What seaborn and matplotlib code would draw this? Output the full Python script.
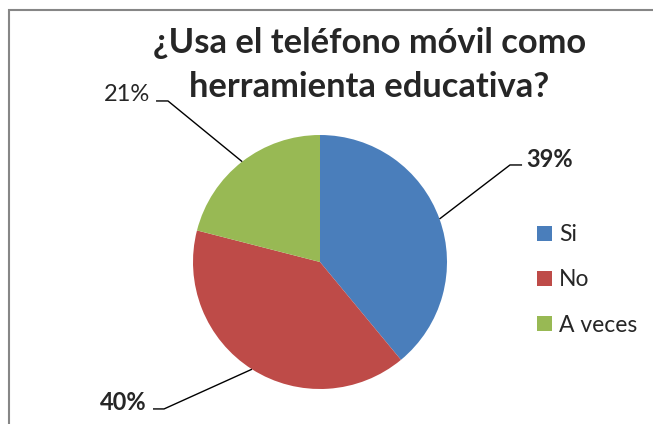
import seaborn as sns
import matplotlib.pyplot as plt
from matplotlib.patches import Rectangle
import numpy as np

sns.set_style("white")
plt.rcParams['font.family'] = ['Lato', 'DejaVu Sans']

# data
categorias = ["Si", "No", "A veces"]
valores = [39, 40, 21]
colores = ["#4A7EBB", "#BE4B48", "#98B954"]
titulo = ["¿Usa el teléfono móvil como", "herramienta educativa?"]

W, H = 653, 424
fig = plt.figure(figsize=(W / 100, H / 100), dpi=100)

# pie axes: center (320, 262) px, radius 127 px
cx, cy, r = 320, 262, 127
ax = fig.add_axes([(cx - r) / W, (H - cy - r) / H, 2 * r / W, 2 * r / H])
wedges, _ = ax.pie(valores, colors=colores, startangle=90, counterclock=False,
                   radius=1, wedgeprops=dict(linewidth=0))
ax.set_xlim(-1, 1)
ax.set_ylim(-1, 1)
ax.set_aspect("equal")
ax.axis("off")

# leader lines and percentage labels
total = sum(valores)
etiquetas = [
    dict(codo=(1.496, 0.764), fin=(1.591, 0.764), texto=(1.622, 0.748), ha="left", bold=True),
    dict(codo=(-1.228, -1.157), fin=(-1.315, -1.157), texto=(-1.362, -1.165), ha="right", bold=True),
    dict(codo=(-1.197, 1.268), fin=(-1.291, 1.268), texto=(-1.339, 1.268), ha="right", bold=False),
]
for w, v, e in zip(wedges, valores, etiquetas):
    ang = np.deg2rad((w.theta1 + w.theta2) / 2)
    p = (np.cos(ang), np.sin(ang))
    ax.plot([p[0], e["codo"][0], e["fin"][0]], [p[1], e["codo"][1], e["fin"][1]],
            color="black", lw=1, clip_on=False, solid_capstyle="butt")
    ax.text(e["texto"][0], e["texto"][1], f"{v / total:.0%}", ha=e["ha"], va="baseline",
            fontsize=17, fontweight="bold" if e["bold"] else "normal", clip_on=False)

# title
fig.text(370 / W, 1 - 53 / H, titulo[0], ha="center", va="baseline",
         fontsize=24.8, fontweight="bold")
fig.text(369 / W, 1 - 97 / H, titulo[1], ha="center", va="baseline",
         fontsize=24.8, fontweight="bold")

# legend
fig.legend(wedges, categorias, loc="center left", bbox_to_anchor=(537 / W, 1 - 280 / H),
           frameon=False, fontsize=16.5, handlelength=0.65, handleheight=0.65,
           handletextpad=0.3, labelspacing=1.05, borderpad=0, borderaxespad=0)

# chart frame (cut at right and bottom)
fig.add_artist(Rectangle((8.5 / W, -0.1), 1.2, 1.1 - 10 / H, transform=fig.transFigure,
                         fill=False, edgecolor="#868686", lw=1.5))

fig.savefig("out.png", dpi=100)
